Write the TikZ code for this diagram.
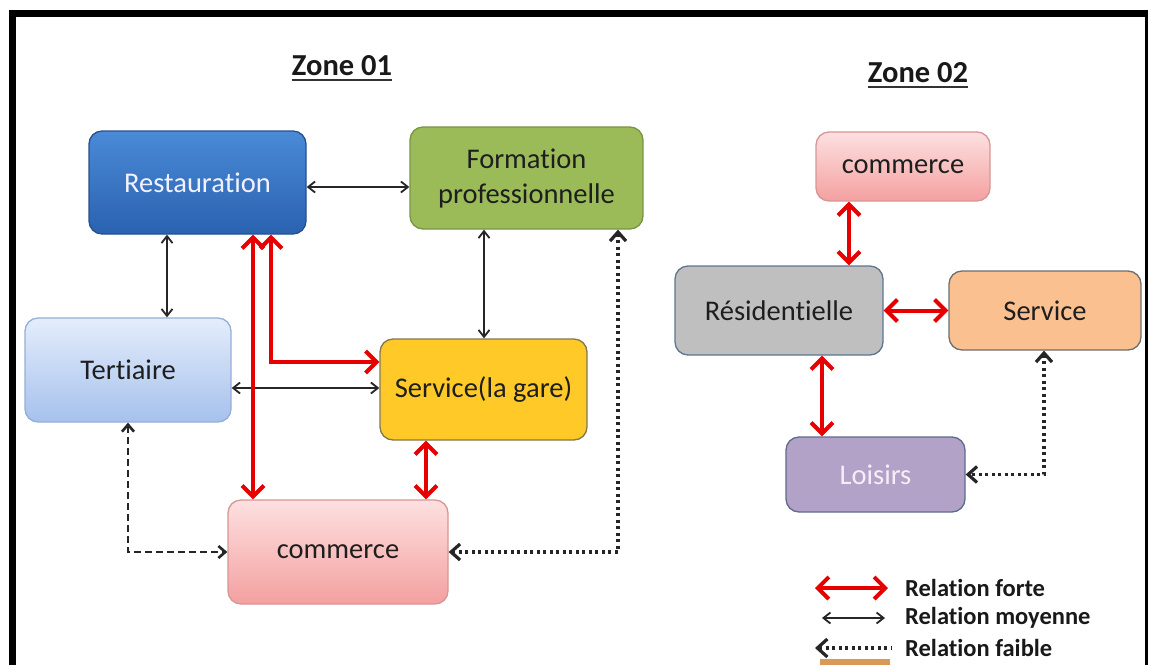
\documentclass[tikz,border=0pt]{standalone}
\usepackage{fontspec}
\setmainfont{Carlito}[Ligatures=NoCommon]
\usetikzlibrary{arrows.meta,calc}
\definecolor{txt}{RGB}{30,30,30}
\definecolor{restT}{RGB}{74,138,214}
\definecolor{restB}{RGB}{42,98,176}
\definecolor{restD}{RGB}{40,80,140}
\definecolor{tertT}{RGB}{228,237,251}
\definecolor{tertB}{RGB}{166,193,237}
\definecolor{tertD}{RGB}{150,175,215}
\definecolor{comT}{RGB}{253,224,224}
\definecolor{comB}{RGB}{244,160,160}
\definecolor{comD}{RGB}{215,150,150}
\definecolor{formF}{RGB}{155,187,89}
\definecolor{formD}{RGB}{120,150,65}
\definecolor{garF}{RGB}{255,201,40}
\definecolor{garD}{RGB}{130,120,80}
\definecolor{resF}{RGB}{191,191,191}
\definecolor{resD}{RGB}{95,117,145}
\definecolor{srvF}{RGB}{250,192,144}
\definecolor{srvD}{RGB}{110,110,110}
\definecolor{loiF}{RGB}{179,162,199}
\definecolor{loiD}{RGB}{95,107,140}
\definecolor{redA}{RGB}{230,0,0}
\tikzset{
  x=1pt,y=-1pt,
  box/.style={rectangle,rounded corners=13pt,line width=1.3pt,align=center,
    text=txt,font=\fontsize{28.5}{35}\selectfont,inner sep=0pt},
  strong/.style={draw=redA,line width=4pt,
    {Straight Barb[length=11pt,width=22pt,line width=4pt]}-{Straight Barb[length=11pt,width=22pt,line width=4pt]}},
  medium/.style={draw=black!85,line width=1.8pt,
    {Straight Barb[length=7pt,width=11pt,line width=1.8pt]}-{Straight Barb[length=7pt,width=11pt,line width=1.8pt]}},
  weakdash/.style={draw=black!85,line width=2.6pt,dash pattern=on 7pt off 4pt,
    {Straight Barb[length=7pt,width=12pt,line width=2.6pt]}-{Straight Barb[length=7pt,width=12pt,line width=2.6pt]}},
  weakdot/.style={draw=black!85,line width=3.6pt,dash pattern=on 3pt off 3.5pt,
    {Straight Barb[length=9pt,width=16pt,line width=3.2pt]}-{Straight Barb[length=9pt,width=16pt,line width=3.2pt]}},
  weakdotL/.style={draw=black!85,line width=3.6pt,dash pattern=on 3pt off 3.5pt,
    {Straight Barb[length=10pt,width=18pt,line width=3.2pt]}-},
  title/.style={font=\fontsize{30.5}{36}\selectfont\bfseries,text=black!90,inner sep=0pt},
  legtext/.style={font=\fontsize{24.5}{30}\selectfont\bfseries,text=black!90,inner sep=0pt,anchor=west},
}
\begin{document}
\begin{tikzpicture}
\useasboundingbox (0,0) rectangle (1149,665);
\fill[white] (0,0) rectangle (1149,665);
% frame
\fill[black] (9,10) rectangle (1148,17);
\fill[black] (9,10) rectangle (16,665);
\fill[black] (1145,10) rectangle (1148,665);

% titles
\node[title,anchor=base] (z1) at (342,75) {Zone 01};
\node[title,anchor=base] (z2) at (918,82) {Zone 02};
\draw[line width=2.6pt,black!80] ($(z1.base west)+(0,5)$) -- ($(z1.base east)+(0,5)$);
\draw[line width=2.6pt,black!80] ($(z2.base west)+(0,5)$) -- ($(z2.base east)+(0,5)$);

% Zone 01 nodes
\node[box,minimum width=217pt,minimum height=103pt,draw=restD,top color=restT,bottom color=restB,text=white!95!blue] (rest) at (197.5,182.5) {Restauration};
\node[box,minimum width=233pt,minimum height=102pt,draw=formD,fill=formF] (form) at (526.5,178) {Formation\\professionnelle};
\node[box,minimum width=206pt,minimum height=104pt,draw=tertD,top color=tertT,bottom color=tertB] (tert) at (128,370) {Tertiaire};
\node[box,minimum width=207pt,minimum height=101pt,draw=garD,fill=garF] (gare) at (483.5,389.5) {Service(la gare)};
\node[box,minimum width=220pt,minimum height=104pt,draw=comD,top color=comT,bottom color=comB] (com1) at (338,552) {commerce};

% Zone 02 nodes
\node[box,minimum width=174pt,minimum height=69pt,draw=comD,top color=comT,bottom color=comB] (com2) at (903,166.5) {commerce};
\node[box,minimum width=208pt,minimum height=89pt,draw=resD,fill=resF] (res) at (779,310.5) {Résidentielle};
\node[box,minimum width=192pt,minimum height=79pt,draw=srvD,fill=srvF] (srv2) at (1045,310.5) {Service};
\node[box,minimum width=179pt,minimum height=75pt,draw=loiD,fill=loiF,text=white!93!violet] (loi) at (875.5,474.5) {Loisirs};

% Zone 01 connectors
\draw[medium] (rest.east |- 0,187) -- (form.west |- 0,187);
\draw[medium] (rest.south -| 167,0) -- (tert.north -| 167,0);
\draw[medium] (form.south -| 484,0) -- (gare.north -| 484,0);
\draw[medium] (tert.east |- 0,388) -- (gare.west |- 0,388);
\draw[strong] (rest.south -| 253,0) -- (com1.north -| 253,0);
\draw[strong] (rest.south -| 271,0) |- (gare.west |- 0,362);
\draw[strong] (gare.south -| 426,0) -- (com1.north -| 426,0);
\draw[weakdash] (tert.south -| 128,0) |- (com1.west);
\draw[weakdot] (form.south -| 618,0) |- (com1.east);

% Zone 02 connectors
\draw[strong] (com2.south -| 849,0) -- (res.north -| 849,0);
\draw[strong] (res.east) -- (srv2.west |- res.east);
\draw[strong] (res.south -| 822,0) -- (loi.north -| 822,0);
\draw[weakdot] (srv2.south -| 1044,0) |- (loi.east);

% legend
\node[legtext] (lf) at (905,588) {Relation forte};
\node[legtext] (lm) at (905,618) {Relation moyenne};
\node[legtext] (lw) at (905,648) {Relation faible};
\coordinate (lfa) at ($(lf.west)+(-90,0)$);
\coordinate (lfb) at ($(lf.west)+(-17,0)$);
\coordinate (lma) at ($(lm.west)+(-83,0)$);
\coordinate (lmb) at ($(lm.west)+(-20,0)$);
\coordinate (lwa) at ($(lw.west)+(-90,0)$);
\coordinate (lwb) at ($(lw.west)+(-13,0)$);
\draw[strong] (lfa) -- (lfb);
\draw[medium] (lma) -- (lmb);
\draw[weakdotL] (lwa) -- (lwb);
\fill[brown!70!orange!80] (820,659) rectangle (890,665);
\end{tikzpicture}
\end{document}
